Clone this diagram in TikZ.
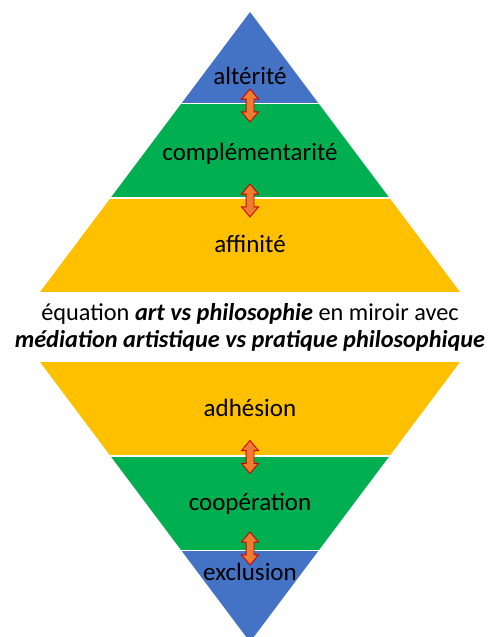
\documentclass[tikz,border=0pt]{standalone}
\usepackage{fontspec}
\setmainfont{Carlito}
\usetikzlibrary{shapes.arrows}

\definecolor{bandblue}{HTML}{4472C4}
\definecolor{bandgreen}{HTML}{00B050}
\definecolor{bandgold}{HTML}{FFC000}
\definecolor{linkorange}{HTML}{ED7D31}
\definecolor{linkred}{HTML}{D00000}

\tikzset{
  lbl/.style={font=\fontsize{25}{30}\selectfont,anchor=base,inner sep=0pt},
  mid/.style={font=\fontsize{24.3}{29}\selectfont,anchor=base,inner sep=0pt},
  link/.style={shape=double arrow,rotate=90,fill=linkorange,draw=linkred,line width=0.9pt,
    minimum height=33pt,double arrow head extend=4.5pt,
    double arrow tip angle=80,inner sep=0pt},
  gap/.style={white,line width=1.5pt}
}

\begin{document}
\begin{tikzpicture}[x=1pt,y=-1pt]
        \useasboundingbox (0,0) rectangle (488,637);
        % pyramide du haut
        \coordinate (T) at (250,12);
        \coordinate (TL) at (40,292);
        \coordinate (TR) at (460,292);
        \begin{scope}
            \clip (T)--(TL)--(TR)--cycle;
            \fill[bandblue] (0,0) rectangle (488,103.5);
            \fill[bandgreen] (0,103.5) rectangle (488,198);
            \fill[bandgold] (0,198) rectangle (488,292);
            \draw[gap] (0,103.5)--(488,103.5);
            \draw[gap] (0,198)--(488,198);
        \end{scope}
        % pyramide du bas
        \coordinate (B) at (250,642);
        \coordinate (BL) at (40,362);
        \coordinate (BR) at (460,362);
        \begin{scope}
            \clip (B)--(BL)--(BR)--cycle;
            \fill[bandgold] (0,362) rectangle (488,456);
            \fill[bandgreen] (0,456) rectangle (488,550.5);
            \fill[bandblue] (0,550.5) rectangle (488,642);
            \draw[gap] (0,456)--(488,456);
            \draw[gap] (0,550.5)--(488,550.5);
        \end{scope}
        % textes
        \node[lbl] (alterite) at (250,84) {altérité};
        \node[lbl] (complem) at (250,160) {complémentarité};
        \node[lbl] (affinite) at (250,252) {affinité};
        \node[mid] (eqA) at (250,320) {équation \textbf{\textit{art vs philosophie}} en miroir avec};
        \node[mid] (eqB) at (250,347) {\textbf{\textit{médiation artistique vs pratique philosophique}}};
        \node[lbl] (adhesion) at (250,416) {adhésion};
        \node[lbl] (cooper) at (250,510) {coopération};
        \node[lbl] (exclusion) at (250,580) {exclusion};
        % fleches
        \node[link] (linkA) at (250,105.5) {\rule{0pt}{7pt}};
        \node[link] (linkB) at (250,200.5) {\rule{0pt}{7pt}};
        \node[link] (linkC) at (250,457) {\rule{0pt}{7pt}};
        \node[link] (linkD) at (250,548.5) {\rule{0pt}{7pt}};
\end{tikzpicture}
\end{document}
